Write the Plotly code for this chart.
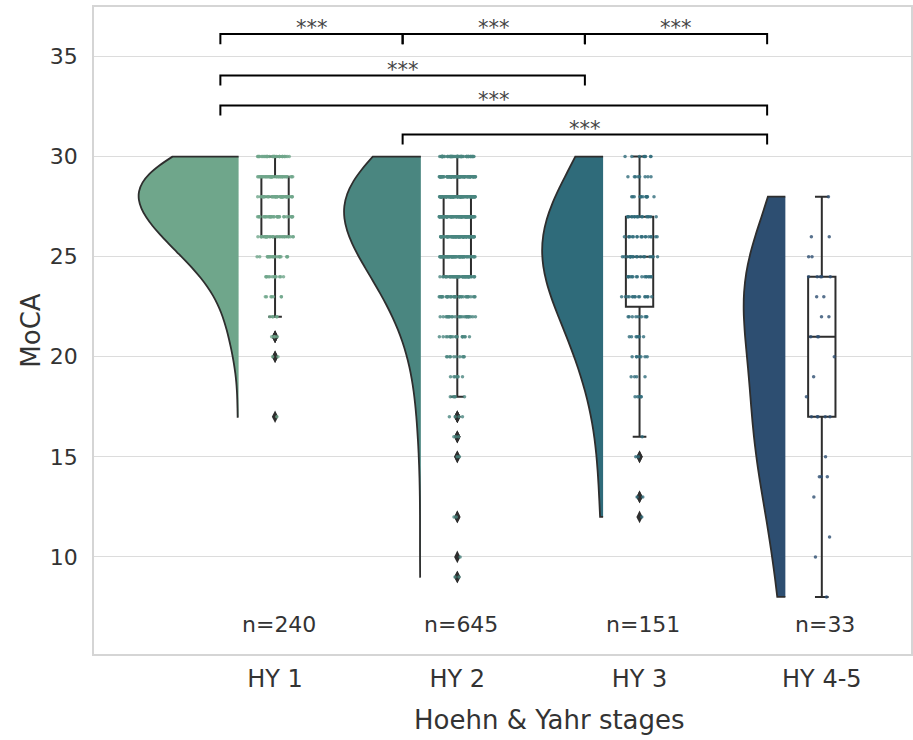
import numpy as np
import plotly.graph_objects as go

categories = ["HY 1", "HY 2", "HY 3", "HY 4-5"]
colors = ["#6fa68b", "#4a8680", "#2f6b7a", "#2d4e71"]

# MoCA score frequency tables
hy1_scores = [30, 29, 28, 27, 26, 25, 24, 23, 22, 21, 20, 17]
hy1_counts = [34, 42, 45, 35, 32, 20, 13, 7, 5, 4, 2, 1]
hy2_scores = [30, 29, 28, 27, 26, 25, 24, 23, 22, 21, 20, 19, 18, 17, 16, 15, 12, 10, 9]
hy2_counts = [66, 84, 96, 91, 80, 65, 50, 35, 25, 17, 10, 7, 5, 4, 3, 2, 2, 1, 2]
hy3_scores = [30, 29, 28, 27, 26, 25, 24, 23, 22, 21, 20, 19, 18, 16, 15, 13, 12]
hy3_counts = [8, 8, 13, 17, 18, 18, 16, 15, 9, 7, 7, 4, 5, 1, 2, 2, 1]
hy45_scores = [28, 26, 25, 24, 23, 22, 21, 20, 19, 18, 17, 15, 14, 13, 11, 10, 8]
hy45_counts = [1, 2, 2, 5, 2, 2, 3, 1, 1, 1, 5, 1, 3, 1, 1, 1, 1]

# significance brackets: (group a, group b, bracket level, label)
pairs_a = [0, 1, 2, 0, 0, 1]
pairs_b = [1, 2, 3, 2, 3, 3]
pair_levels = [36.12, 36.12, 36.12, 34.05, 32.55, 31.1]
pair_labels = ["***", "***", "***", "***", "***", "***"]

groups = [
    np.repeat(hy1_scores, hy1_counts),
    np.repeat(hy2_scores, hy2_counts),
    np.repeat(hy3_scores, hy3_counts),
    np.repeat(hy45_scores, hy45_counts),
]

FONT = "DejaVu Sans"
DARK = "#2e2e2e"
BW_SCALE = [1.7, 2.1, 1.8, 1.15]    # kernel smoothing relative to Scott's rule
MAX_HALF = 0.547                     # half-width of the widest violin (axis units)
VIOL_OFF = -0.2


def scott_bw(g, k):
    return float(np.std(g, ddof=1) * len(g) ** (-1 / 5) * k)


def kde_peak(g, bw):
    grid = np.linspace(g.min(), g.max(), 600)
    d = np.exp(-0.5 * ((grid[:, None] - g[None, :]) / bw) ** 2).sum(1)
    return float(d.max() / (len(g) * bw * np.sqrt(2 * np.pi)))


bws = [scott_bw(g, k) for g, k in zip(groups, BW_SCALE)]
peaks = [kde_peak(g, b) for g, b in zip(groups, bws)]
top = max(peaks)

fig = go.Figure()

for i, (g, c) in enumerate(zip(groups, colors)):
    fig.add_trace(go.Violin(
        y=g, x0=i + VIOL_OFF, side="negative",
        width=2 * MAX_HALF * peaks[i] / top,
        scalemode="width", spanmode="hard", bandwidth=bws[i],
        fillcolor=c, line=dict(color=DARK, width=1.8), opacity=1,
        points=False, box_visible=False, meanline_visible=False,
        hoverinfo="skip", name=categories[i],
    ))

for i, g in enumerate(groups):
    fig.add_trace(go.Box(
        y=g, x0=i, width=0.15, whiskerwidth=0.5, quartilemethod="inclusive",
        fillcolor="white", line=dict(color=DARK, width=2),
        boxpoints="outliers", pointpos=0, jitter=0,
        marker=dict(symbol="diamond-tall", size=9, color=DARK,
                    line=dict(width=0)),
        hoverinfo="skip", name=categories[i],
    ))

for i, (g, c) in enumerate(zip(groups, colors)):
    fig.add_trace(go.Box(
        y=g, x0=i, width=0.2, quartilemethod="inclusive",
        fillcolor="rgba(0,0,0,0)", line=dict(color="rgba(0,0,0,0)", width=0),
        boxpoints="all", pointpos=0, jitter=1,
        marker=dict(size=3.5, color=c, opacity=0.8, line=dict(width=0)),
        hoverinfo="skip", name=categories[i],
    ))

# n= labels
for i, g in enumerate(groups):
    fig.add_annotation(x=i + 0.02, y=6.6, text=f"n={len(g)}", showarrow=False,
                       font=dict(family=FONT, size=22, color="#333"))

# significance brackets
BR_X = -0.3
for a, b, lv, lab in zip(pairs_a, pairs_b, pair_levels, pair_labels):
    xa, xb = a + BR_X, b + BR_X
    fig.add_trace(go.Scatter(
        x=[xa, xa, xb, xb], y=[lv - 0.5, lv, lv, lv - 0.5], mode="lines",
        line=dict(color="black", width=2), hoverinfo="skip",
    ))
    fig.add_annotation(x=(xa + xb) / 2, y=lv + 0.3, text=lab, showarrow=False,
                       font=dict(family=FONT, size=21, color="#444"))

fig.add_annotation(xref="paper", yref="paper", x=0.558, y=-0.102, yanchor="middle",
                   text="Hoehn & Yahr stages", showarrow=False,
                   font=dict(family=FONT, size=26, color="#333"))

fig.update_layout(
    width=913, height=740,
    margin=dict(l=94, r=0, t=7, b=86),
    plot_bgcolor="white", paper_bgcolor="white",
    showlegend=False, violinmode="overlay", boxmode="overlay",
    font=dict(family=FONT, color="#333"),
    xaxis=dict(range=[-0.9934, 3.4894], tickvals=[0, 1, 2, 3], ticktext=categories,
               showgrid=False, zeroline=False, showline=True, mirror=True,
               linecolor="#d5d5d5", linewidth=1.5, ticks="outside", ticklen=2,
               tickcolor="white", tickfont=dict(family=FONT, size=24, color="#333")),
    yaxis=dict(range=[5.15, 37.475], tickvals=[10, 15, 20, 25, 30, 35],
               showgrid=True, gridcolor="#dcdcdc", gridwidth=1, zeroline=False,
               showline=True, mirror=True, linecolor="#d5d5d5", linewidth=1.5,
               ticks="outside", ticklen=10, tickcolor="white",
               tickfont=dict(family=FONT, size=22, color="#333"),
               title=dict(text="MoCA", font=dict(family=FONT, size=26, color="#333"),
                          standoff=2)),
)

fig.write_html("out.html")
